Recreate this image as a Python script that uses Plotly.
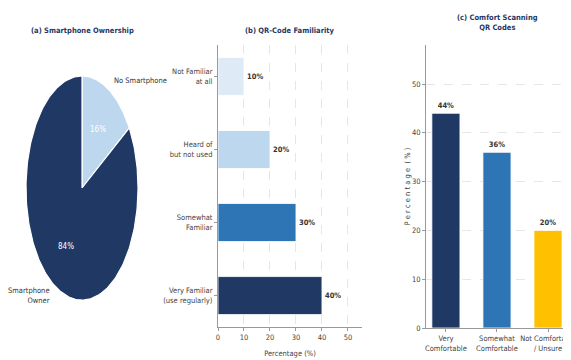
import numpy as np
import plotly.graph_objects as go

W, H = 571, 360
OFF = 8  # page body margin in the screenshot
FW, FH = W - OFF, H - OFF  # figure size so that it fits exactly in the window
FONT = "DejaVu Sans Condensed, DejaVu Sans, sans-serif"
NAVY = "#1F3864"

# ---- data ----
own_labels = ["No Smartphone", "Smartphone<br>Owner"]
own_values = [16, 84]
own_colors = ["#BDD7EE", NAVY]

fam_labels = ["Not Familiar<br>at all", "Heard of<br>but not used", "Somewhat<br>Familiar", "Very Familiar<br>(use regularly)"]
fam_values = [10, 20, 30, 40]
fam_colors = ["#DEEBF7", "#BDD7EE", "#2E75B6", NAVY]

com_labels = ["Very<br>Comfortable", "Somewhat<br>Comfortable", "Not Comfortable<br>/ Unsure"]
com_values = [44, 36, 20]
com_colors = [NAVY, "#2E75B6", "#FFC000"]


def fx(px):
    return (px - OFF) / FW


def fy(py):
    return 1 - (py - OFF) / FH


def px_dom_x(a, b):
    return [fx(a), min(1.0, fx(b))]


def px_dom_y(top, bottom):
    return [max(0.0, fy(bottom)), fy(top)]


fig = go.Figure()

# ---- (a) pie drawn as filled wedges (elliptical, as in the reference) ----
total = sum(own_values)
start = 90.0
annos = []
for lab, val, col in zip(own_labels, own_values, own_colors):
    sweep = val / total * 360
    ang = np.radians(np.linspace(start, start - sweep, 200))
    xs = np.concatenate([[0], np.cos(ang), [0]])
    ys = np.concatenate([[0], np.sin(ang), [0]])
    fig.add_trace(go.Scatter(x=xs, y=ys, fill="toself", fillcolor=col, mode="lines",
                             line=dict(color="white", width=1.2), xaxis="x", yaxis="y",
                             hoverinfo="skip", showlegend=False))
    mid = np.radians(start - sweep / 2)
    cx, cy = np.cos(mid), np.sin(mid)
    annos.append(dict(x=0.6 * cx, y=0.6 * cy, xref="x", yref="y", text=f"{val}%",
                      showarrow=False, font=dict(family=FONT, size=8, color="white")))
    annos.append(dict(x=1.1 * cx, y=1.1 * cy, xref="x", yref="y", text=lab, showarrow=False,
                      xanchor="left" if cx > 0 else "right", yanchor="middle", align="left" if cx > 0 else "right",
                      font=dict(family=FONT, size=7.5, color="#333333")))
    start -= sweep

axis_off = dict(visible=False, fixedrange=True, automargin=False)
# pie axes: center at screen (82,188), rx 56, ry 112
fig.update_layout(
    xaxis=dict(domain=px_dom_x(8, 170), range=[(8 - 82) / 56, (170 - 82) / 56], **axis_off),
    yaxis=dict(domain=px_dom_y(40, 340), range=[(188 - 340) / 112, (188 - 40) / 112], **axis_off),
)

# ---- (b) horizontal bars ----
fig.add_trace(go.Bar(y=fam_labels, x=fam_values, orientation="h", marker=dict(color=fam_colors, line=dict(color="white", width=0.8)),
                     width=0.52, text=[f"<b>{v}%</b>" for v in fam_values], textposition="outside",
                     textfont=dict(family=FONT, size=7.5, color="#333333"), cliponaxis=False,
                     xaxis="x2", yaxis="y2", showlegend=False))

axis_common = dict(showline=True, linecolor="#999999", linewidth=1, ticks="outside", ticklen=3, tickcolor="#999999",
                   tickfont=dict(family=FONT, size=7.5, color="#444444"), zeroline=False, automargin=False,
                   tickangle=0)

fig.update_layout(
    xaxis2=dict(domain=px_dom_x(218, 362), range=[0, 55.4], anchor="y2", tickvals=[0, 10, 20, 30, 40, 50],
                showgrid=True, gridcolor="#E6E6E6", griddash="dash", gridwidth=0.8,
                title=dict(text="Percentage (%)", font=dict(family=FONT, size=7.5, color="#444444"), standoff=9),
                **axis_common),
    yaxis2=dict(domain=px_dom_y(45, 327), range=[3.43, -0.43], anchor="x2", showgrid=False, **axis_common),
)

# ---- (c) vertical bars ----
fig.add_trace(go.Bar(x=com_labels, y=com_values, marker=dict(color=com_colors, line=dict(color="white", width=0.8)),
                     width=0.55, text=[f"<b>{v}%</b>" for v in com_values], textposition="outside",
                     textfont=dict(family=FONT, size=7.5, color="#333333"), cliponaxis=False,
                     xaxis="x3", yaxis="y3", showlegend=False))

fig.update_layout(
    xaxis3=dict(domain=px_dom_x(426, 571), range=[-0.39, 2.45], anchor="y3", showgrid=False, **axis_common),
    yaxis3=dict(domain=px_dom_y(45, 328), range=[0, 58], anchor="x3", tickvals=[0, 10, 20, 30, 40, 50],
                showgrid=True, gridcolor="#E6E6E6", griddash="dash", gridwidth=0.8,
                title=dict(text="P e r c e n t a g e  ( % )", font=dict(family=FONT, size=7.5, color="#444444"), standoff=0),
                **axis_common),
)

# ---- titles ----
title_font = dict(family=FONT, size=7.5, color=NAVY)
annos += [
    dict(x=fx(82), y=fy(31), xref="paper", yref="paper", text="<b>(a) Smartphone Ownership</b>",
         showarrow=False, font=title_font, xanchor="center", yanchor="middle"),
    dict(x=fx(290), y=fy(30), xref="paper", yref="paper", text="<b>(b) QR-Code Familiarity</b>",
         showarrow=False, font=title_font, xanchor="center", yanchor="middle"),
    dict(x=fx(497), y=fy(23), xref="paper", yref="paper", text="<b>(c) Comfort Scanning<br>QR Codes</b>",
         showarrow=False, font=title_font, xanchor="center", yanchor="middle"),
]

fig.update_layout(
    width=FW, height=FH, margin=dict(l=0, r=0, t=0, b=0, autoexpand=False),
    paper_bgcolor="white", plot_bgcolor="white",
    annotations=annos,
    font=dict(family=FONT),
)

fig.write_html("out.html")
